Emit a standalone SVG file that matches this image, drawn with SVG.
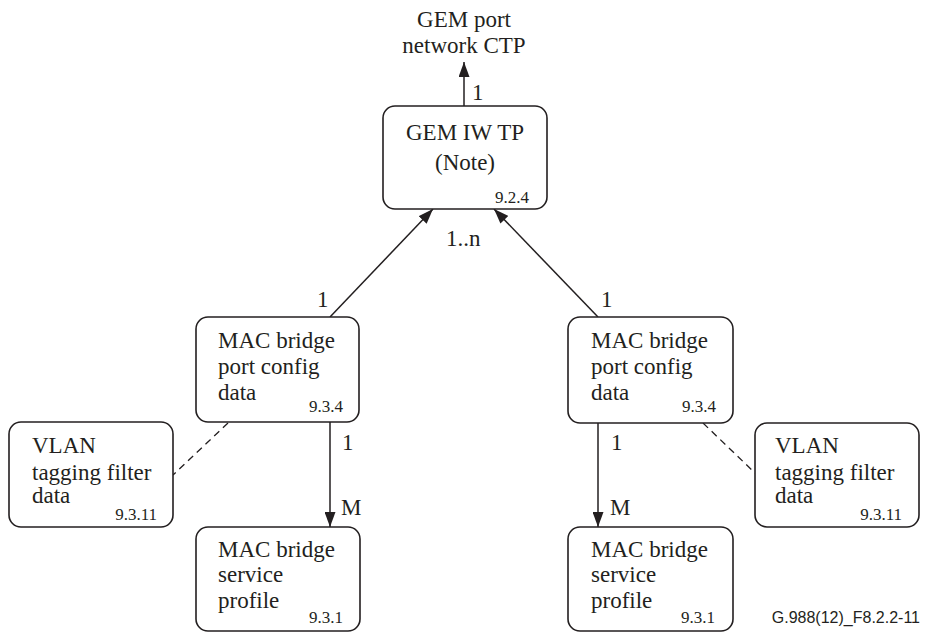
<svg xmlns="http://www.w3.org/2000/svg" width="925" height="633" viewBox="0 0 925 633">
<style>
.box{fill:#fff;stroke:#231f20;stroke-width:1.6}
.t{font-family:"Liberation Serif","Times New Roman",serif;font-size:23px;fill:#231f20}
.s{font-family:"Liberation Serif","Times New Roman",serif;font-size:17px;fill:#231f20;text-anchor:end}
.c{text-anchor:middle}
.ln{stroke:#231f20;stroke-width:1.5;fill:none}
.dash{stroke:#231f20;stroke-width:1.3;fill:none;stroke-dasharray:7,5}
</style>
<defs>
<marker id="ah" viewBox="0 0 15 11" refX="15" refY="5.5" markerWidth="15" markerHeight="11" markerUnits="userSpaceOnUse" orient="auto">
<path d="M0,0 L15,5.5 L0,11 z" fill="#231f20"/>
</marker>
</defs>
<rect width="925" height="633" fill="#fff"/>
<g id="connectors">
<line class="ln" x1="464" y1="106" x2="464" y2="62" marker-end="url(#ah)"/>
<line class="ln" x1="330" y1="317" x2="433" y2="209" marker-end="url(#ah)"/>
<line class="ln" x1="598" y1="317" x2="494" y2="209" marker-end="url(#ah)"/>
<line class="ln" x1="330" y1="422" x2="330" y2="527" marker-end="url(#ah)"/>
<line class="ln" x1="598" y1="423" x2="598" y2="527" marker-end="url(#ah)"/>
<line class="dash" x1="228" y1="423" x2="173" y2="475"/>
<line class="dash" x1="703" y1="423" x2="755" y2="473"/>
<text class="t" x="472" y="100">1</text>
<text class="t" x="446" y="246">1..n</text>
<text class="t" x="317" y="307">1</text>
<text class="t" x="601" y="307">1</text>
<text class="t" x="342" y="450">1</text>
<text class="t" x="341" y="515">M</text>
<text class="t" x="611" y="450">1</text>
<text class="t" x="610" y="515">M</text>
</g>
<g id="gem-port-ctp">
<text class="t c" x="464" y="27">GEM port</text>
<text class="t c" x="464" y="53">network CTP</text>
</g>
<g id="gem-iw-tp">
<rect class="box" x="383" y="106" width="164" height="103" rx="12"/>
<text class="t c" x="465" y="140">GEM IW TP</text>
<text class="t c" x="465" y="170">(Note)</text>
<text class="s" x="529" y="203">9.2.4</text>
</g>
<g id="mbpcd-left">
<rect class="box" x="196" y="317" width="163" height="105" rx="12"/>
<text class="t" x="218" y="348">MAC bridge</text>
<text class="t" x="218" y="374">port config</text>
<text class="t" x="218" y="400">data</text>
<text class="s" x="343" y="412">9.3.4</text>
</g>
<g id="mbpcd-right">
<rect class="box" x="568" y="317" width="165" height="106" rx="12"/>
<text class="t" x="591" y="348">MAC bridge</text>
<text class="t" x="591" y="374">port config</text>
<text class="t" x="591" y="400">data</text>
<text class="s" x="716" y="412">9.3.4</text>
</g>
<g id="vlan-left">
<rect class="box" x="9" y="422" width="164" height="105" rx="12"/>
<text class="t" x="32" y="453">VLAN</text>
<text class="t" x="32" y="480">tagging filter</text>
<text class="t" x="32" y="503">data</text>
<text class="s" x="157" y="520">9.3.11</text>
</g>
<g id="vlan-right">
<rect class="box" x="755" y="423" width="164" height="104" rx="12"/>
<text class="t" x="775" y="453">VLAN</text>
<text class="t" x="775" y="480">tagging filter</text>
<text class="t" x="775" y="503">data</text>
<text class="s" x="902" y="520">9.3.11</text>
</g>
<g id="mbsp-left">
<rect class="box" x="196" y="527" width="164" height="104" rx="12"/>
<text class="t" x="218" y="557">MAC bridge</text>
<text class="t" x="218" y="582">service</text>
<text class="t" x="218" y="608">profile</text>
<text class="s" x="343" y="623">9.3.1</text>
</g>
<g id="mbsp-right">
<rect class="box" x="568" y="527" width="165" height="104" rx="12"/>
<text class="t" x="591" y="557">MAC bridge</text>
<text class="t" x="591" y="582">service</text>
<text class="t" x="591" y="608">profile</text>
<text class="s" x="715" y="623">9.3.1</text>
</g>
<text x="920" y="623" font-family="Liberation Sans,Arial,sans-serif" font-size="16" fill="#231f20" text-anchor="end">G.988(12)_F8.2.2-11</text>
</svg>
